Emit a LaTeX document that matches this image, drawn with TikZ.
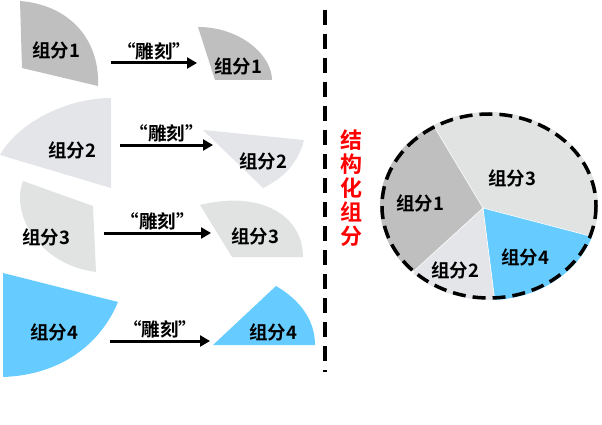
\documentclass[tikz,border=0pt]{standalone}
\usepackage{fontspec}
\setmainfont{Liberation Sans}
\newfontfamily\cjk{Noto Sans CJK SC}[BoldFont={* Bold}]
\usetikzlibrary{positioning, arrows.meta}
\definecolor{gA}{HTML}{BFBFBF}
\definecolor{gB}{HTML}{E4E5E9}
\definecolor{gC}{HTML}{E1E2E2}
\definecolor{sky}{HTML}{66CCFF}
\tikzstyle{lbl}=[font=\cjk\bfseries\fontsize{18.5}{18}\selectfont, inner sep=1pt]
\tikzstyle{carve}=[-{Triangle[length=10pt,width=11pt]}, line width=3pt]
\begin{document}
\begin{tikzpicture}[x=1pt, y=-1pt]
  \useasboundingbox (0,0) rectangle (602,425);
  % Pieces on the left, before carving
  \fill[gA] (20,1) .. controls (70,5) and (100,40) .. (98,86) -- (22,68) -- cycle;
  \fill[gB] (0,155) .. controls (20,120) and (70,98) .. (111,98) -- (111,188) -- cycle;
  \fill[gC] (23,181) -- (93,206) -- (96,272) .. controls (40,265) and (10,215) .. (23,181);
  \fill[sky] (3,273) -- (118,302) .. controls (100,345) and (60,375) .. (3,377) -- cycle;

  % Pieces after carving
  \fill[gA] (198,27) .. controls (240,27) and (272,55) .. (272,80) -- (215,80) -- cycle;
  \fill[gB] (203,130) -- (304,140) .. controls (298,165) and (280,180) .. (263,188) -- cycle;
  \fill[gC] (200,205) .. controls (260,190) and (303,215) .. (303,257) -- (232,257) -- cycle;
  \fill[sky] (213,345) -- (276,286) .. controls (300,300) and (315,320) .. (315,345) -- cycle;

  \node[lbl] (p1) at (56,50) {组分1};
  \node[lbl] (p2) at (72,150) {组分2};
  \node[lbl] (p3) at (46,237) {组分3};
  \node[lbl] (p4) at (54,332) {组分4};
  \node[lbl] (q1) at (238,66) {组分1};
  \node[lbl] (q2) at (263,161) {组分2};
  \node[lbl] (q3) at (255,236) {组分3};
  \node[lbl] (q4) at (273,332) {组分4};

  % Carving arrows
  \coordinate (a1) at (111,63);  \coordinate (b1) at (197,63);
  \coordinate (a2) at (120,145); \coordinate (b2) at (213,145);
  \coordinate (a3) at (104,233); \coordinate (b3) at (211,233);
  \coordinate (a4) at (110,341); \coordinate (b4) at (210,341);
  \foreach \i in {1,...,4} {
    \draw[carve] (a\i) -- node[lbl, above=0pt] {“雕刻”} (b\i);
  }

  % Divider
  \draw[line width=3.5pt, dash pattern=on 15pt off 9pt] (325,10) -- (325,372);
  \node[lbl, text=red, align=center, font=\cjk\bfseries\fontsize{22}{24}\selectfont] (tag) at (351,188) {结\\构\\化\\组\\分};

  % Assembled pie
  \coordinate (ctr) at (483,208);
  \begin{scope}
    \clip (489,206) ellipse [x radius=109, y radius=94];
    \fill[gC] (ctr) -- (432,123) -- (420,60) -- (650,60) -- (650,240) -- (590,236) -- cycle;
    \fill[sky] (ctr) -- (590,236) -- (650,240) -- (650,340) -- (495,340) -- (495,302) -- cycle;
    \fill[gB] (ctr) -- (495,302) -- (495,340) -- (380,340) -- (415,270) -- cycle;
    \fill[gA] (ctr) -- (415,270) -- (340,300) -- (340,90) -- (432,123) -- cycle;
    \draw[white, line width=0.6pt] (ctr) -- (432,123) (ctr) -- (590,236) (ctr) -- (495,302) (ctr) -- (415,270);
  \end{scope}
  \draw[line width=3.5pt, dash pattern=on 13pt off 7pt] (489,206) ellipse [x radius=107, y radius=92];
  \node[lbl] (r1) at (420,203) {组分1};
  \node[lbl] (r2) at (455,270) {组分2};
  \node[lbl] (r3) at (512,178) {组分3};
  \node[lbl] (r4) at (525,257) {组分4};
\end{tikzpicture}
\end{document}
